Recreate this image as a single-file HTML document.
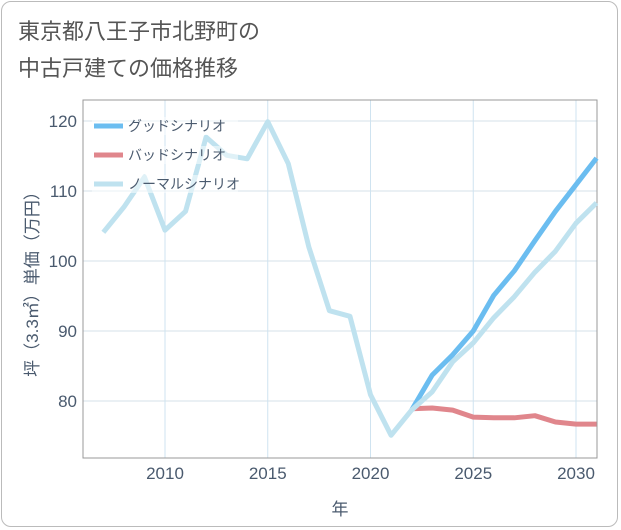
<!DOCTYPE html>
<html><head><meta charset="utf-8"><style>
body{margin:0;background:#fff;font-family:"Liberation Sans","Noto Sans CJK JP",sans-serif;}
#wrap{position:relative;width:621px;height:530px;}
#frame{position:absolute;left:1px;top:1px;width:617px;height:526px;border:1px solid #bbb;border-radius:10px;box-sizing:border-box;}
#title{position:absolute;left:18px;top:13px;font-size:22px;line-height:37px;color:#555;}
</style></head><body>
<div id="wrap">
<div id="frame"></div>
<div id="title">東京都八王子市北野町の<br>中古戸建ての価格推移</div>
<svg id="chart" width="621" height="530" style="position:absolute;left:0;top:0"></svg>
</div>
<script>
const years=[2007,2008,2009,2010,2011,2012,2013,2014,2015,2016,2017,2018,2019,2020,2021,2022,2023,2024,2025,2026,2027,2028,2029,2030,2031];
const normalVals=[104.1,107.7,112,104.4,107.1,117.7,115.1,114.6,119.9,113.9,102,92.9,92.1,80.9,75.1,78.7,81.3,85.6,88.3,91.9,94.9,98.4,101.4,105.4,108.3];
const goodYears=[2022,2023,2024,2025,2026,2027,2028,2029,2030,2031];
const goodVals=[78.7,83.7,86.6,90,95.1,98.6,102.9,107.1,110.9,114.7];
const badVals=[78.9,79,78.7,77.7,77.6,77.6,77.9,77,76.7,76.7];
const xTicks=[2010,2015,2020,2025,2030];
const yTicks=[80,90,100,110,120];
const ns="http://www.w3.org/2000/svg";
const svg=document.getElementById('chart');
const L=83,R=597,T=100,B=458;
const x=y=>165+(y-2010)*20.55;
const yv=v=>401-(v-80)*7;
function mk(t,a){const e=document.createElementNS(ns,t);for(const k in a)e.setAttribute(k,a[k]);svg.appendChild(e);return e;}
for(const t of yTicks){
 const g=mk('line',{x1:L,x2:R,y1:yv(t),y2:yv(t),stroke:'#d5e1ea','stroke-width':1});
 
 
 const tx=mk('text',{x:L-6,y:yv(t)+6,'text-anchor':'end','font-size':17,fill:'#4a5a6e'});
 tx.textContent=t;
 
 
}
for(const t of xTicks){
 const g=mk('line',{x1:x(t),x2:x(t),y1:T,y2:B,stroke:'#cfe3f0','stroke-width':1});
 
 
 const tx=mk('text',{x:x(t),y:B+21,'text-anchor':'middle','font-size':17,fill:'#4a5a6e'});
 tx.textContent=t;
 
 
}
const ax=mk('rect',{x:L,y:T,width:R-L,height:B-T,fill:'none',stroke:'#999','stroke-width':1});


function line(xs,vs,color,name){
 const p=mk('polyline',{points:xs.map((yr,i)=>x(yr)+','+yv(vs[i])).join(' '),fill:'none',stroke:color,'stroke-width':5,'stroke-linejoin':'round'});
 
 
}
line(goodYears,badVals,'#e0868c','bad-scenario-line');
line(goodYears,goodVals,'#6bbdf0','good-scenario-line');
line(years,normalVals,'#bfe2ef','normal-scenario-line');
const leg=[['グッドシナリオ','#6bbdf0'],['バッドシナリオ','#e0868c'],['ノーマルシナリオ','#bfe2ef']];
leg.forEach((l,i)=>{
 const yy=126+i*29;
 const bg=mk('rect',{x:92,y:yy-9,width:146,height:18,fill:'#fff','fill-opacity':0.5});
 
 
 const s=mk('line',{x1:94,x2:123,y1:yy,y2:yy,stroke:l[1],'stroke-width':5});
 
 
 const t=mk('text',{x:128,y:yy+5,'font-size':14,fill:'#4a5a6e'});
 t.textContent=l[0];
 
 
});
const xt=mk('text',{x:340,y:515,'text-anchor':'middle','font-size':17,fill:'#4a5a6e'});
xt.textContent='年';


const yt=mk('text',{x:0,y:0,'text-anchor':'middle','font-size':17,fill:'#4a5a6e',transform:'translate(38,280) rotate(-90)'});
yt.textContent='坪（3.3㎡）単価（万円）';


</script>
</body></html>
